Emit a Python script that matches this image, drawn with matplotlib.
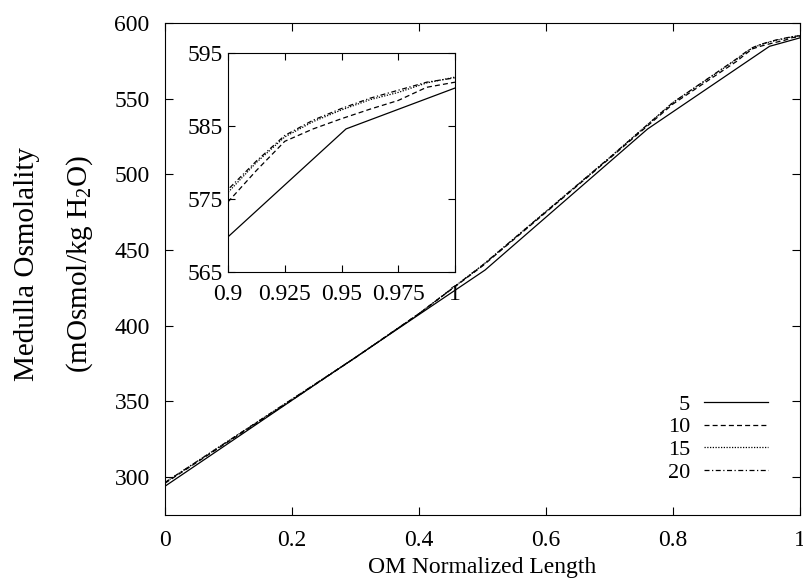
import numpy as np
import matplotlib
matplotlib.use("Agg")
import matplotlib.pyplot as plt
from matplotlib.ticker import FixedLocator, FuncFormatter

plt.rcParams['font.family'] = ['Liberation Serif', 'DejaVu Serif']
plt.rcParams['mathtext.fontset'] = 'custom'
plt.rcParams['mathtext.rm'] = 'Liberation Serif'

# data
x5 = [0.0, 0.25, 0.504, 0.76, 0.952, 1.0]
y5 = [294.0, 365.0, 436.8, 530.0, 584.6, 590.2]

xs = [0.0, 0.1, 0.2, 0.3, 0.4, 0.5, 0.6, 0.7, 0.8, 0.9, 0.9125, 0.925, 0.9375,
      0.95, 0.9625, 0.975, 0.9875, 1.0]
y10 = [296.0, 323.5, 351.0, 379.0, 408.0, 439.5, 475.0, 510.5, 546.5, 574.6,
       578.9, 582.9, 584.6, 586.0, 587.3, 588.5, 590.3, 591.0]
y15 = [296.5, 324.0, 351.5, 379.0, 408.0, 440.0, 475.5, 511.0, 547.5, 575.9,
       580.0, 583.5, 585.6, 587.2, 588.6, 589.6, 590.9, 591.7]
y20 = [296.5, 324.0, 351.5, 379.0, 408.0, 440.0, 475.5, 511.0, 547.5, 576.3,
       580.2, 583.7, 585.8, 587.4, 588.8, 589.9, 591.0, 591.6]

labels = ['\u20075', '10', '15', '20']
main_xticks = [0, 0.2, 0.4, 0.6, 0.8, 1.0]
main_yticks = [300, 350, 400, 450, 500, 550, 600]
ins_xticks = [0.9, 0.925, 0.95, 0.975, 1.0]
ins_yticks = [565, 575, 585, 595]

styles = [dict(ls='-'), dict(ls=(0, (4, 2.5))), dict(ls=(0, (1, 1.2))),
          dict(ls=(0, (4, 2, 1, 2)))]

W, H = 804, 586
fig = plt.figure(figsize=(W / 100, H / 100), dpi=100)
ax = fig.add_axes([165 / W, 1 - 515 / H, (800 - 165) / W, (515 - 23) / H])

fmt = FuncFormatter(lambda v, p: '%g' % v)


def draw(a, lw):
    hs = []
    hs += a.plot(x5, y5, color='black', lw=lw, label=labels[0], **styles[0])
    hs += a.plot(xs, y10, color='black', lw=lw, label=labels[1], **styles[1])
    hs += a.plot(xs, y15, color='black', lw=lw, label=labels[2], **styles[2])
    hs += a.plot(xs, y20, color='black', lw=lw, label=labels[3], **styles[3])
    return hs


hs = draw(ax, 0.9)
ax.set_xlim(0, 1)
ax.set_ylim(275, 600)
ax.xaxis.set_major_locator(FixedLocator(main_xticks))
ax.yaxis.set_major_locator(FixedLocator(main_yticks))
ax.xaxis.set_major_formatter(fmt)
ax.tick_params(direction='in', length=6, width=0.8, top=True, right=True,
               labelsize=17)
ax.tick_params(axis='y', pad=11)
ax.tick_params(axis='x', pad=11)
for s in ax.spines.values():
    s.set_linewidth(0.8)

fig.text(482 / W, 1 - 568 / H, 'OM Normalized Length', ha='center',
         va='center', fontsize=17)
fig.text(27 / W, 1 - 264 / H, 'Medulla Osmolality', rotation=90,
         ha='center', va='center', fontsize=21)
fig.text(80 / W, 1 - 264 / H, '(mOsmol/kg H$_\\mathregular{2}$O)', rotation=90,
         ha='center', va='center', fontsize=21)

leg = ax.legend(handles=hs, loc='lower right', bbox_to_anchor=(0.95, 0.065),
                frameon=False, markerfirst=False, fontsize=16,
                handlelength=2.9, handletextpad=0.6, labelspacing=0.1,
                borderpad=0, borderaxespad=0)

ins = fig.add_axes([228 / W, 1 - 272 / H, (455 - 228) / W, (272 - 53) / H])
draw(ins, 0.9)
ins.set_xlim(0.9, 1.0)
ins.set_ylim(565, 595)
ins.xaxis.set_major_locator(FixedLocator(ins_xticks))
ins.yaxis.set_major_locator(FixedLocator(ins_yticks))
ins.xaxis.set_major_formatter(fmt)
ins.tick_params(direction='in', length=5, width=0.8, top=True, right=True,
                labelsize=17, pad=4)
ins.tick_params(axis='x', pad=9)
for s in ins.spines.values():
    s.set_linewidth(0.8)

fig.savefig('out.png', dpi=100)
